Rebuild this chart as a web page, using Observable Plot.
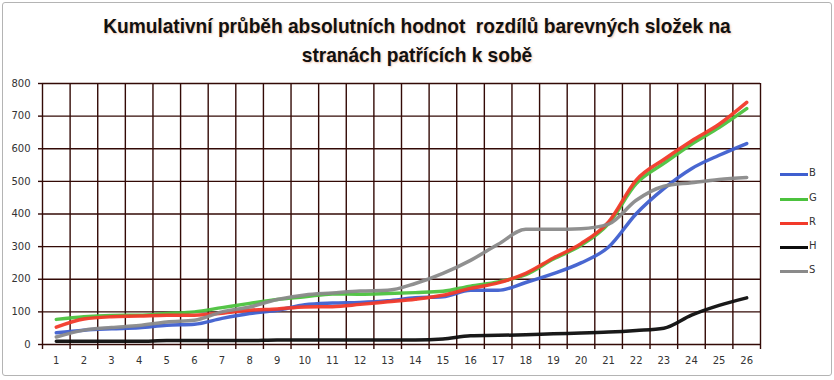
<!DOCTYPE html>
<html><head><meta charset="utf-8">
<script src="https://cdn.jsdelivr.net/npm/d3@7"></script>
<script src="https://cdn.jsdelivr.net/npm/@observablehq/plot@0.6"></script>
<style>
body{margin:0;background:#fff;}
#wrap{position:relative;width:834px;height:380px;overflow:hidden;background:#fff;}
#frame{position:absolute;left:2px;top:2px;width:828px;height:372px;border:1px solid #b4b4b4;border-radius:3px;}
#title{position:absolute;left:0;top:11px;width:834px;text-align:center;font-family:"Liberation Sans Narrow","Liberation Sans",sans-serif;font-weight:bold;font-size:21px;line-height:29px;color:#111;text-shadow:1px 1px 2px rgba(225,150,110,0.55);transform:scaleX(0.91);transform-origin:417px 0;}
#chart{position:absolute;left:0;top:70px;}
.lg{position:absolute;height:10px;font-family:"DejaVu Sans",sans-serif;font-size:10px;color:#333;}
.lg .ln{position:absolute;left:0;top:4px;width:28px;height:3px;}
.lg .tx{position:absolute;left:29px;top:-2px;}
</style></head>
<body>
<div id="wrap">
<div id="frame"></div>
<div id="title">Kumulativní průběh absolutních hodnot&nbsp; rozdílů barevných složek na<br>stranách patřících k sobě</div>
<div id="chart"></div>
<div id="legend"></div>
</div>
<script>
const categories = [1,2,3,4,5,6,7,8,9,10,11,12,13,14,15,16,17,18,19,20,21,22,23,24,25,26];
const B = [36,44,48,51,59,62,80,95,105,122,127,129,134,143,146,166,166,190,217,250,299,401,478,539,580,616];
const G = [77,85,89,90,95,100,113,126,138,146,155,154,156,159,163,179,192,214,262,304,371,493,555,614,665,723];
const R = [53,78,85,87,90,90,96,105,109,115,116,123,131,139,151,172,189,218,265,309,376,504,567,624,675,742];
const H = [10,10,10,10,12,12,12,12,14,14,14,14,14,14,17,27,28,30,33,35,38,43,50,90,120,143];
const S = [23,44,52,58,69,74,100,115,138,152,158,164,166,187,218,258,307,353,353,355,369,442,485,496,506,512];
const seriesNames = ["B","G","R","H","S"];
const seriesColors = ["#3f5fcf","#4cc23e","#f23a2a","#0d0d0d","#8a8a8a"];
const yTicks = [0,100,200,300,400,500,600,700,800];

const seriesValues = {B, G, R, H, S};
const rows = [];
for (const name of seriesNames) {
  seriesValues[name].forEach((v, i) => rows.push({series: name, cat: categories[i], value: v}));
}
const boundaries = [categories[0] - 0.5, ...categories.map(c => c + 0.5)];
const gridColor = "#330a06";

const chart = Plot.plot({
  width: 834,
  height: 310,
  marginLeft: 42,
  marginRight: 74,
  marginTop: 13,
  marginBottom: 36,
  style: {fontFamily: "DejaVu Sans, sans-serif", fontSize: "10px", color: "#333", background: "transparent"},
  x: {type: "linear", domain: [boundaries[0], boundaries[boundaries.length - 1]]},
  y: {domain: [0, 800]},
  color: {domain: seriesNames, range: seriesColors},
  marks: [
    Plot.ruleX(boundaries, {stroke: gridColor, strokeWidth: 1.4}),
    Plot.ruleY(yTicks, {stroke: gridColor, strokeWidth: 1.4}),
    Plot.axisY({ticks: yTicks, tickSize: 4, tickPadding: 8, stroke: gridColor, strokeWidth: 1.4, label: null, fill: "#333"}),
    Plot.axisX({ticks: categories, tickSize: 0, tickPadding: 12, label: null, fill: "#333"}),
    Plot.axisX({ticks: boundaries, tickSize: 5, tickFormat: () => "", label: null, stroke: gridColor, strokeWidth: 1.4}),
    Plot.line(rows, {x: "cat", y: "value", z: "series", stroke: "series", strokeWidth: 3.5, curve: "monotone-x", strokeOpacity: 0.95})
  ]
});
document.getElementById("chart").appendChild(chart);

const legend = document.getElementById("legend");
const legendTops = [169, 194, 218, 242, 266];
seriesNames.forEach((name, i) => {
  const d = document.createElement("div");
  d.className = "lg";
  d.style.left = "780px";
  d.style.top = legendTops[i] + "px";
  d.innerHTML = `<div class="ln" style="background:${seriesColors[i]}"></div><div class="tx">${name}</div>`;
  legend.appendChild(d);
});
</script>
</body></html>
